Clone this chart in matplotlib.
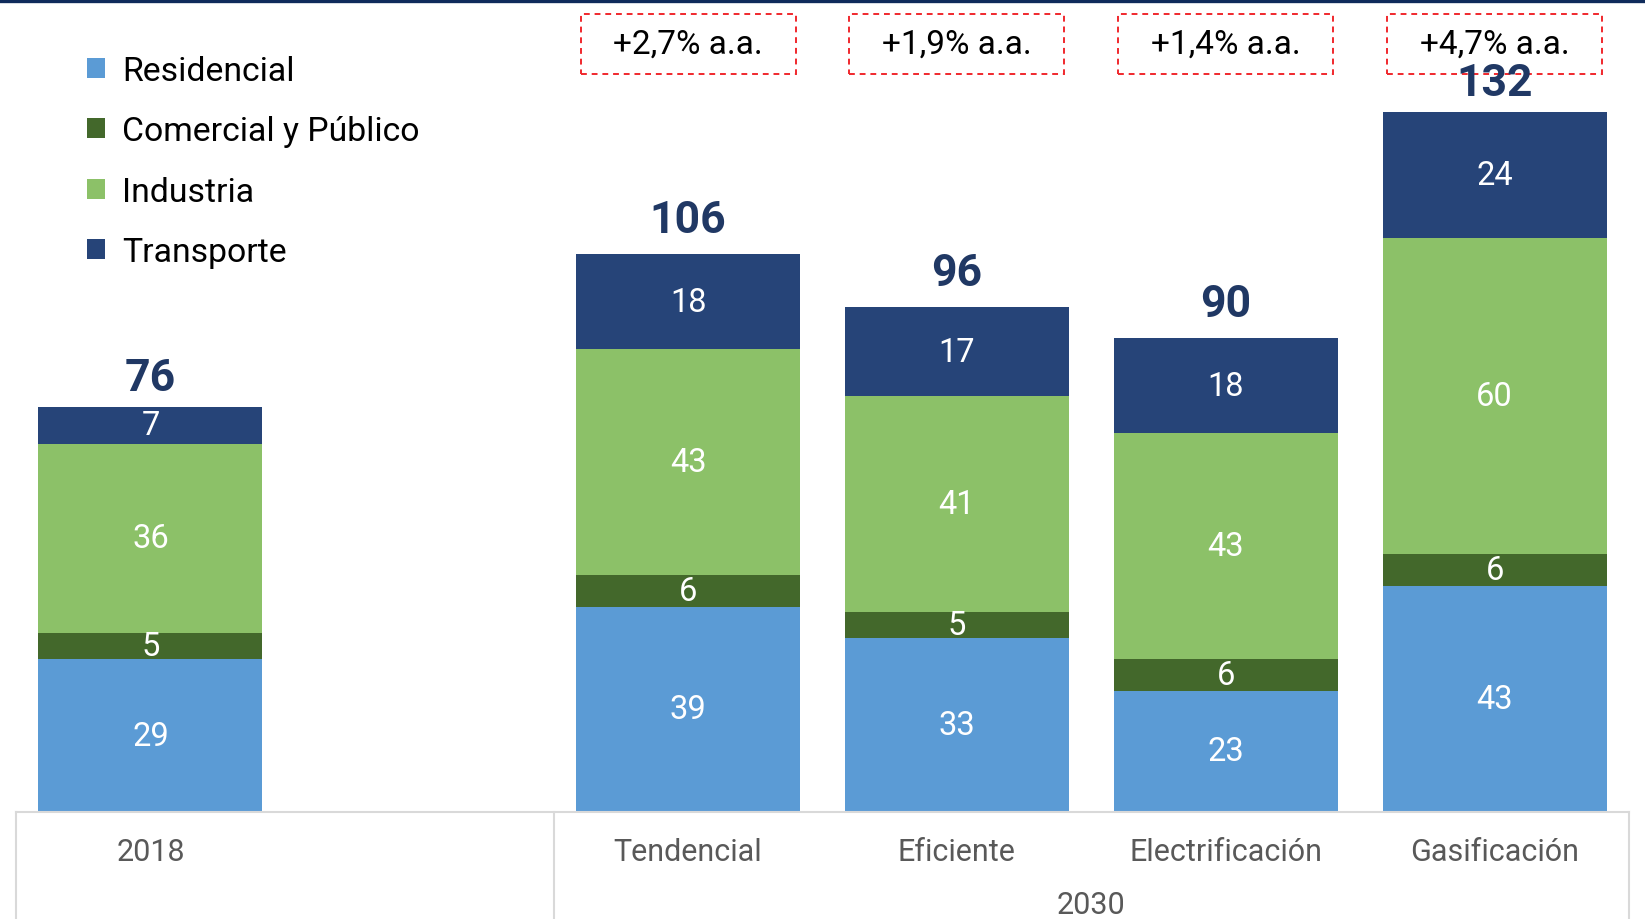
import matplotlib
matplotlib.use("Agg")
import matplotlib.pyplot as plt
from matplotlib.patches import Patch, Rectangle
from matplotlib.lines import Line2D
from matplotlib import transforms as mtransforms

plt.rcParams["font.family"] = ["Roboto", "DejaVu Sans"]

# data
categories = ["2018", "Tendencial", "Eficiente", "Electrificación", "Gasificación"]
positions = [0, 2, 3, 4, 5]
residencial = [29, 39, 33, 23, 43]
comercial = [5, 6, 5, 6, 6]
industria = [36, 43, 41, 43, 60]
transporte = [7, 18, 17, 18, 24]
totals = [76, 106, 96, 90, 132]
growth_labels = ["+2,7% a.a.", "+1,9% a.a.", "+1,4% a.a.", "+4,7% a.a."]
group_label = "2030"

series = [
    ("Residencial", residencial, "#5B9BD5"),
    ("Comercial y Público", comercial, "#43682B"),
    ("Industria", industria, "#8CC168"),
    ("Transporte", transporte, "#264478"),
]

W, H = 1645, 920
fig = plt.figure(figsize=(W / 100, H / 100), dpi=100)
axBottom = 813
ax = fig.add_axes([16 / W, (H - axBottom) / H, (1629 - 16) / W, axBottom / H])
pxPerUnit = 5.262
ax.set_xlim(-0.5, 5.5)
ax.set_ylim(0, axBottom / pxPerUnit)

width = 0.833
bottoms = [0] * len(positions)
for name, vals, color in series:
    ax.bar(positions, vals, width=width, bottom=bottoms, color=color,
           label=name, linewidth=0)
    for x, b, v in zip(positions, bottoms, vals):
        ax.text(x, b + v / 2, str(v), ha="center", va="center",
                color="white", fontsize=23.5)
    bottoms = [b + v for b, v in zip(bottoms, vals)]

for x, t in zip(positions, totals):
    ax.annotate(str(t), (x, t), xytext=(0, 34 * 0.72),
                textcoords="offset points", ha="center", va="center",
                fontsize=32, fontweight="bold", color="#203864")

# growth boxes
blend = mtransforms.blended_transform_factory(ax.transData, ax.transAxes)
boxTop = (axBottom - 15) / axBottom
boxBot = (axBottom - 75) / axBottom
for x, g in zip(positions[1:], growth_labels):
    ax.add_patch(Rectangle((x - 0.4, boxBot), 0.8, boxTop - boxBot,
                           transform=blend, fill=False, edgecolor="#F0282D",
                           linestyle=(0, (3, 2.5)), linewidth=1.4,
                           clip_on=False))
    ax.text(x, (boxTop + boxBot) / 2, g, transform=blend, ha="center",
            va="center", fontsize=24, color="black")

# axis styling
for side in ["top", "left", "right"]:
    ax.spines[side].set_visible(False)
ax.spines["bottom"].set_color("#D9D9D9")
ax.spines["bottom"].set_linewidth(1.5)
ax.set_yticks([])
ax.set_xticks(positions)
ax.set_xticklabels(categories, fontsize=22, color="#595959")
ax.tick_params(axis="x", length=0, pad=18)

depth = -(H - axBottom) / axBottom
for xv in [-0.5, 1.5, 5.5]:
    ax.plot([xv, xv], [0, depth], transform=blend, color="#D9D9D9",
            linewidth=1.5, clip_on=False)
ax.text(3.5, -93 / axBottom, group_label, transform=blend, ha="center",
        va="center", fontsize=22, color="#595959")

# legend
handles = [Patch(facecolor=c, edgecolor="none") for _, _, c in series]
names = [n for n, _, _ in series]
fig.legend(handles, names, loc="upper left",
           bbox_to_anchor=(87 / W, 1 - 56 / H), frameon=False, fontsize=24.3,
           handlelength=0.53, handleheight=0.53, handletextpad=0.5,
           labelspacing=0.84, borderpad=0, borderaxespad=0)

# navy rule at the top
fig.add_artist(Line2D([0, 1], [1 - 1.5 / H, 1 - 1.5 / H], color="#0F2B5B",
                      linewidth=2.4, transform=fig.transFigure))

fig.savefig("out.png", dpi=100)
